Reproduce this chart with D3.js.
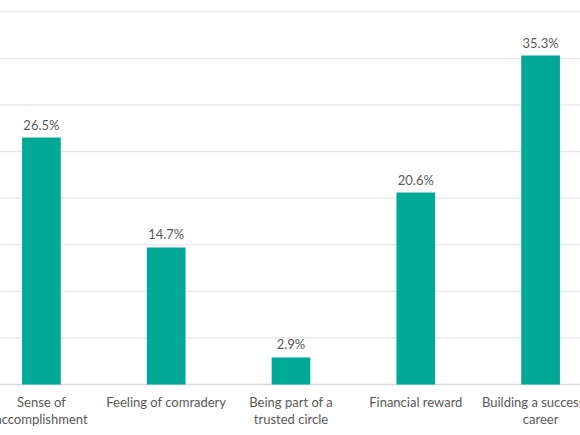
<!DOCTYPE html>
<html>
<head>
<meta charset="utf-8">
<script src="https://cdn.jsdelivr.net/npm/d3@7"></script>
<style>
  body { margin: 0; background: #fff; }
  svg { display: block; }
  .label { font-family: Lato, "Open Sans", sans-serif; font-size: 13px; fill: #595959; }
</style>
</head>
<body>
<svg width="580" height="435"></svg>
<script>
// chart data
var categories = [
  ["Sense of", "accomplishment"],
  ["Feeling of comradery"],
  ["Being part of a", "trusted circle"],
  ["Financial reward"],
  ["Building a successful", "career"]
];
var values = [26.5, 14.7, 2.9, 20.6, 35.3];
var gridTicks = [0, 5, 10, 15, 20, 25, 30, 35, 40];

var svg = d3.select("svg");
var width = 580;
// the plot runs a bit past both edges of the picture
var plotLeft = -21, plotRight = 603;
var plotTop = 11.7, plotBottom = 384.5;

var x = d3.scaleBand()
  .domain(d3.range(values.length))
  .range([plotLeft, plotRight])
  .paddingInner(0.69)
  .paddingOuter(0.345);

var y = d3.scaleLinear()
  .domain([0, 40])
  .range([plotBottom, plotTop]);

// gridlines
svg.append("g")
  .selectAll("line")
  .data(gridTicks)
  .join("line")
  .attr("x1", 0)
  .attr("x2", width)
  .attr("y1", function(d) { return y(d); })
  .attr("y2", function(d) { return y(d); })
  .attr("stroke", function(d) { return d == 0 ? "#d9d9d9" : "#e6e6e6"; })
  .attr("stroke-width", 1.3);

// bars
svg.append("g")
  .selectAll("rect")
  .data(values)
  .join("rect")
  .attr("x", function(d, i) { return x(i); })
  .attr("y", function(d) { return y(d); })
  .attr("width", x.bandwidth())
  .attr("height", function(d) { return y(0) - y(d); })
  .attr("fill", "#00a996");

// value labels
svg.append("g")
  .selectAll("text")
  .data(values)
  .join("text")
  .attr("class", "label")
  .attr("text-anchor", "middle")
  .attr("x", function(d, i) { return x(i) + x.bandwidth() / 2; })
  .attr("y", function(d) { return y(d) - 8; })
  .text(function(d) { return d.toFixed(1) + "%"; });

// category labels
var cat = svg.append("g")
  .selectAll("text")
  .data(categories)
  .join("text")
  .attr("class", "label")
  .attr("text-anchor", "middle")
  .attr("x", function(d, i) { return x(i) + x.bandwidth() / 2; })
  .attr("y", plotBottom + 22.5);

cat.selectAll("tspan")
  .data(function(d) { return d; })
  .join("tspan")
  .attr("x", function() { return d3.select(this.parentNode).attr("x"); })
  .attr("dy", function(d, i) { return i == 0 ? 0 : 16.6; })
  .text(function(d) { return d; });
</script>
</body>
</html>
